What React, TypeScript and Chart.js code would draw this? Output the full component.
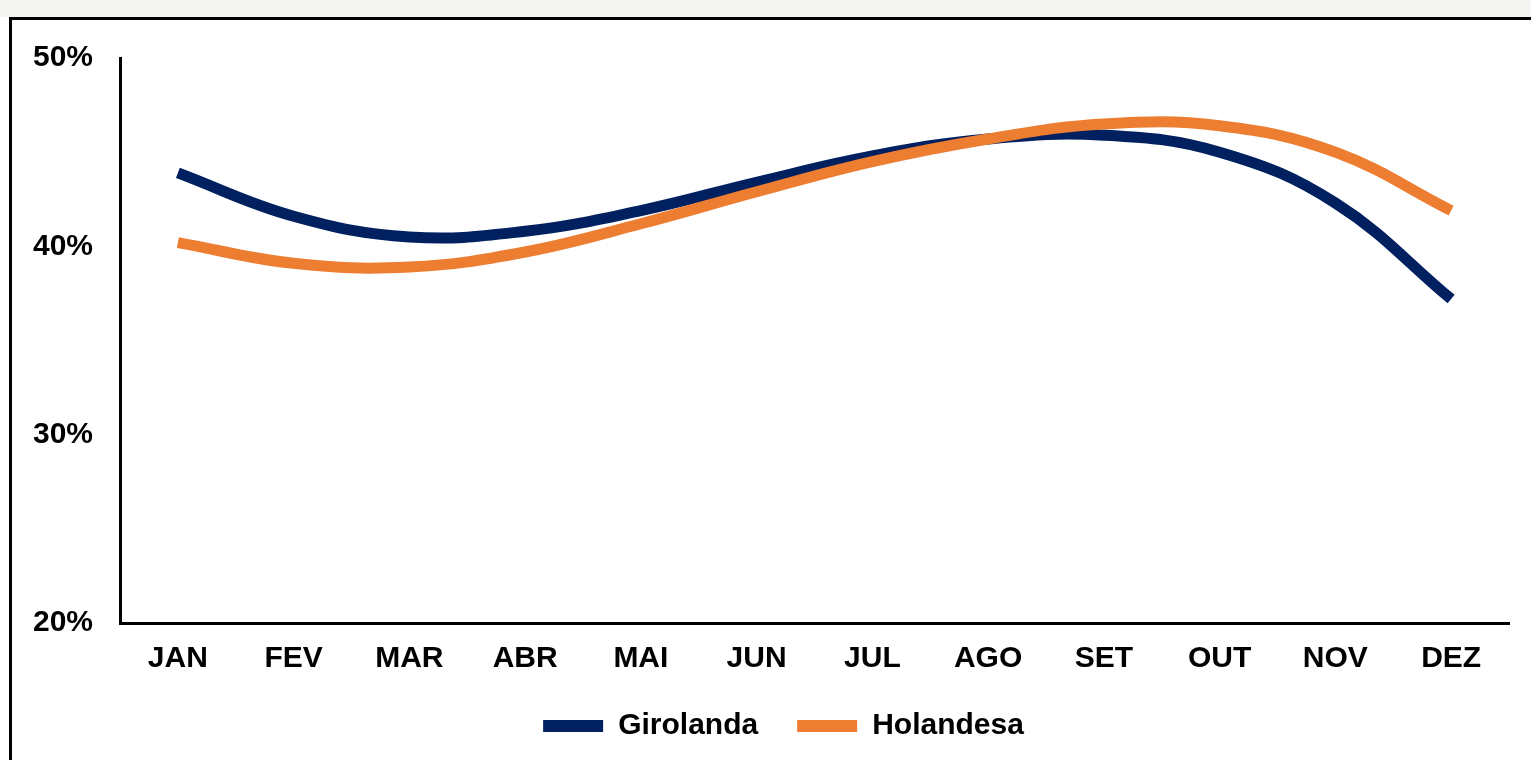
import React, { useEffect, useRef } from "react";
import { Chart, registerables } from "chart.js";

Chart.register(...registerables);

const months = ["JAN", "FEV", "MAR", "ABR", "MAI", "JUN", "JUL", "AGO", "SET", "OUT", "NOV", "DEZ"];
const girolanda = [43.9, 41.6, 40.5, 40.8, 41.9, 43.4, 44.8, 45.7, 45.9, 45.0, 42.3, 37.2];
const holandesa = [40.2, 39.1, 38.9, 39.7, 41.2, 42.9, 44.5, 45.7, 46.5, 46.4, 45.0, 41.9];
const seriesNames = ["Girolanda", "Holandesa"];
const yTicks = [20, 30, 40, 50];

const FONT = "'Liberation Sans', Arial, sans-serif";
const LEGEND_CENTER_X = 783.5;

const legendShift = {
  id: "legendShift",
  afterLayout(chart: any) {
    const lg = chart.legend;
    if (!lg) return;
    const shift = LEGEND_CENTER_X - (lg.left + lg.right) / 2;
    lg.left += shift;
    lg.right += shift;
  },
};

export default function App() {
  const ref = useRef<HTMLCanvasElement>(null);
  useEffect(() => {
    if (!ref.current) return;
    const chart = new Chart(ref.current, {
      type: "line",
      data: {
        labels: months,
        datasets: [
          {
            label: seriesNames[0],
            data: girolanda,
            borderColor: "#002060",
            backgroundColor: "#002060",
            borderWidth: 11,
            pointRadius: 0,
            tension: 0.4,
            order: 1,
          },
          {
            label: seriesNames[1],
            data: holandesa,
            borderColor: "#ED7D31",
            backgroundColor: "#ED7D31",
            borderWidth: 11,
            pointRadius: 0,
            tension: 0.4,
            order: 0,
          },
        ],
      },
      plugins: [legendShift],
      options: {
        animation: false,
        responsive: false,
        maintainAspectRatio: false,
        layout: { padding: { top: 58, right: 58, bottom: 49, left: 0 } },
        plugins: {
          tooltip: { enabled: false },
          legend: {
            position: "bottom",
            labels: {
              boxWidth: 60,
              boxHeight: 12,
              padding: 39,
              color: "#000",
              font: { family: FONT, size: 30, weight: "bold" },
              generateLabels: (c: any) =>
                Chart.defaults.plugins.legend.labels
                  .generateLabels(c)
                  .map((l: any) => ({ ...l, lineWidth: 0 }))
                  .sort((a: any, b: any) => a.datasetIndex - b.datasetIndex),
            },
          },
        },
        scales: {
          x: {
            offset: true,
            grid: { display: false, drawTicks: false },
            border: { display: true, color: "#000", width: 3 },
            ticks: {
              padding: 18,
              color: "#000",
              font: { family: FONT, size: 30, weight: "bold" },
              maxRotation: 0,
            },
            afterFit: (s: any) => {
              s.height = 49;
            },
          },
          y: {
            min: 20,
            max: 50,
            grid: { display: false, drawTicks: false },
            border: { display: true, color: "#000", width: 3 },
            afterBuildTicks: (s: any) => {
              s.ticks = yTicks.map((v) => ({ value: v }));
            },
            ticks: {
              padding: 27,
              color: "#000",
              font: { family: FONT, size: 30, weight: "bold" },
              callback: (v: any) => v + "%",
            },
            afterFit: (s: any) => {
              s.width = 120;
            },
          },
        },
      },
    });
    return () => chart.destroy();
  }, []);

  return (
    <div
      style={{
        position: "fixed",
        left: 0,
        top: 0,
        width: 1531,
        height: 760,
        overflow: "hidden",
        background: "#fff",
      }}
    >
      <div style={{ position: "absolute", left: 0, top: 0, width: 1531, height: 17, background: "#f4f4f1" }} />
      <div
        style={{
          position: "absolute",
          left: 9,
          top: 17,
          width: 1600,
          height: 800,
          border: "3px solid #000",
          boxSizing: "border-box",
          background: "#fff",
        }}
      />
      <canvas
        ref={ref}
        width={1567}
        height={800}
        style={{ position: "absolute", left: 0, top: 0, width: 1567, height: 800 }}
      />
    </div>
  );
}
